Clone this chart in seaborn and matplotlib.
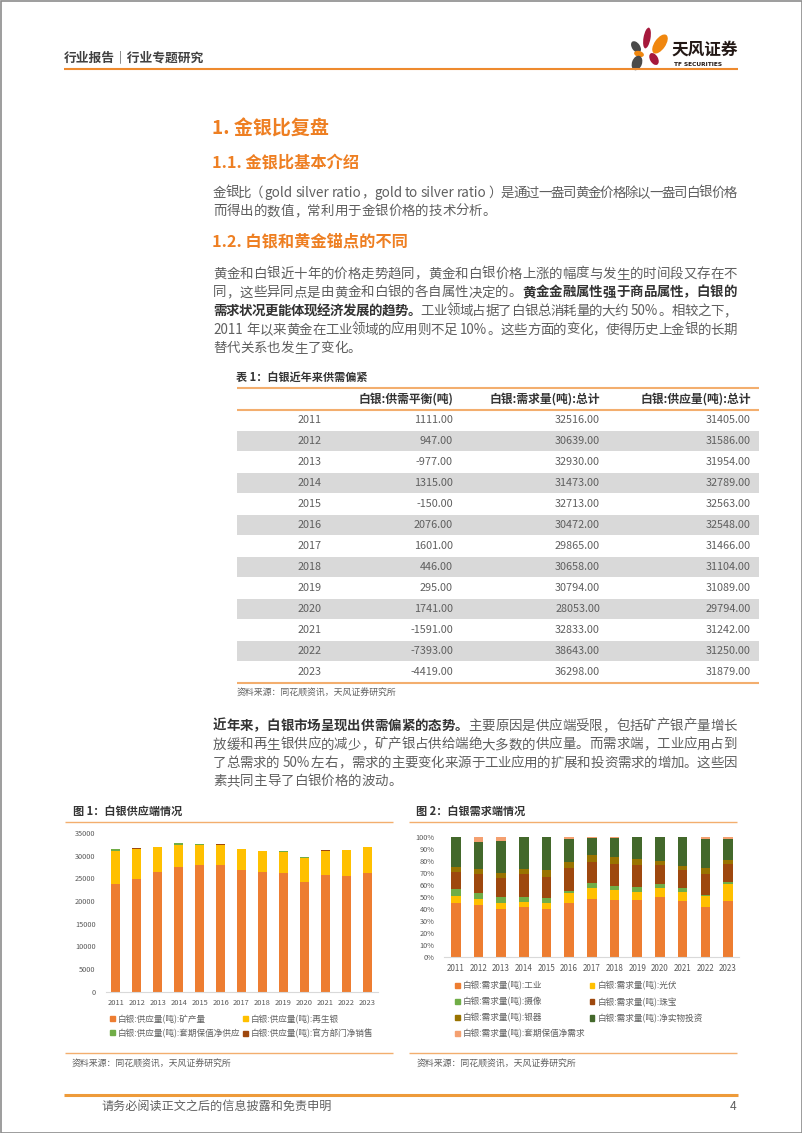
import re
import matplotlib.pyplot as plt
from matplotlib.patches import Rectangle, Ellipse, Patch
from matplotlib.ticker import FuncFormatter
import seaborn as sns
import pandas as pd

sns.set_style('white')
plt.rcParams['font.family'] = ['Noto Sans CJK SC', 'DejaVu Sans']

W, H = 802, 1133
ORANGE = '#EE7F22'
LINE = '#F3AE6E'
BODY = '#5F5F5F'
DARK = '#333333'

years = [str(y) for y in range(2011, 2024)]

# 表1 数据
table_cols = ['白银:供需平衡(吨)', '白银:需求量(吨):总计', '白银:供应量(吨):总计']
balance = [1111, 947, -977, 1315, -150, 2076, 1601, 446, 295, 1741, -1591, -7393, -4419]
demand_total = [32516, 30639, 32930, 31473, 32713, 30472, 29865, 30658, 30794, 28053, 32833, 38643, 36298]
supply_total = [31405, 31586, 31954, 32789, 32563, 32548, 31466, 31104, 31089, 29794, 31242, 31250, 31879]

# 图1 供应端 (吨)
supply_labels = ['白银:供应量(吨):矿产量', '白银:供应量(吨):再生银',
                 '白银:供应量(吨):套期保值净供应', '白银:供应量(吨):官方部门净销售']
supply_colors = ['#ED7D31', '#FFC000', '#70AD47', '#9E480E']
mine = [23700, 24800, 26300, 27500, 28000, 27950, 26900, 26480, 26130, 24280, 25750, 25600, 26260]
recycled = [7330, 6690, 5560, 4960, 4420, 4500, 4470, 4530, 4600, 5200, 5380, 5580, 5560]
hedge_supply = [375, 0, 0, 329, 70, 0, 0, 0, 280, 250, 0, 0, 0]
official = [0, 96, 94, 0, 73, 98, 96, 94, 79, 64, 112, 70, 59]

# 图2 需求端 (占比 %)
demand_labels = ['白银:需求量(吨):工业', '白银:需求量(吨):光伏', '白银:需求量(吨):摄像',
                 '白银:需求量(吨):珠宝', '白银:需求量(吨):银器', '白银:需求量(吨):净实物投资',
                 '白银:需求量(吨):套期保值净需求']
demand_colors = ['#ED7D31', '#FFC000', '#70AD47', '#9E480E', '#997300', '#43682B', '#F4A070']
industry = [45.3, 43.0, 40.0, 41.3, 40.2, 45.3, 48.6, 47.5, 47.5, 50.3, 46.6, 41.9, 46.6]
pv = [5.8, 5.3, 4.7, 4.2, 5.1, 7.8, 8.9, 8.1, 7.0, 7.2, 7.6, 8.9, 14.3]
photo = [5.6, 5.1, 5.0, 4.8, 3.6, 2.2, 4.0, 3.9, 3.6, 3.4, 3.1, 0.9, 1.9]
jewelry = [14.4, 15.5, 15.9, 18.6, 17.8, 18.6, 17.7, 18.3, 18.6, 15.5, 14.9, 17.2, 15.0]
silverware = [3.9, 4.2, 4.7, 4.7, 5.5, 5.0, 5.8, 6.1, 5.5, 3.6, 3.4, 5.5, 3.6]
investment = [25.0, 22.7, 26.9, 26.4, 27.8, 20.0, 14.4, 15.5, 17.8, 20.0, 24.4, 24.2, 17.5]
hedge_demand = [0, 4.2, 2.8, 0, 0, 1.1, 0.6, 0.6, 0, 0, 0, 1.4, 1.1]

fig = plt.figure(figsize=(W / 100, H / 100), dpi=100)
page = fig.add_axes([0, 0, 1, 1])
page.set_xlim(0, W)
page.set_ylim(H, 0)
page.axis('off')
renderer = fig.canvas.get_renderer()


def hline(x0, x1, y, color=LINE, lw=1.0):
    page.plot([x0, x1], [y, y], color=color, lw=lw, solid_capstyle='butt')


def rich_line(segs, x, yc, size=9.7, right=None):
    em = size * 100 / 72
    base = yc + 0.37 * em
    items = []
    for text, bold in segs:
        for tok in re.findall(r'[!-~]+| +|.', text):
            items.append((tok, bold))
    arts, widths = [], []
    for tok, bold in items:
        if tok.strip() == '':
            arts.append(None)
            widths.append(0.25 * em * len(tok))
            continue
        t = page.text(0, base, tok, fontsize=size, va='baseline', ha='left',
                      color=DARK if bold else BODY,
                      fontweight='bold' if bold else 'normal')
        arts.append(t)
        if re.fullmatch(r'[!-~]+', tok):
            widths.append(t.get_window_extent(renderer).width + 0.1 * em)
        else:
            widths.append(em)
    gap = 0
    if right is not None and len(items) > 1:
        gap = (right - x - sum(widths)) / (len(items) - 1)
    cx = x
    for a, w in zip(arts, widths):
        if a is not None:
            a.set_x(cx)
        cx += w + gap


# 页边框
page.add_patch(Rectangle((0.5, 0.5), W - 1, H - 1, fill=False, ec='#8C8C8C', lw=1.2))

# 页眉
page.text(64, 58, '行业报告｜行业专题研究', fontsize=9.2, color='#404040',
          fontweight='bold', va='center')
hline(64, 738, 68.5, color='#EE8A2E', lw=1.5)
for (cx, cy, w, h, ang, c) in [(647, 38, 7, 21, 10, '#A6193C'),
                               (660, 44, 11, 22, 35, '#F0870F'),
                               (636, 47, 8, 13, -35, '#4A4A4A'),
                               (639, 54, 10, 6, 15, '#F0870F'),
                               (637, 63, 10, 15, 20, '#4A4A4A'),
                               (654, 59, 8, 13, -30, '#A6193C')]:
    page.add_patch(Ellipse((cx, cy), w, h, angle=ang, color=c, lw=0))
page.text(671, 50, '天风证券', fontsize=12, fontweight='bold', color='#231815', va='center')
page.text(674, 64, 'TF SECURITIES', fontsize=4.2, fontweight='bold', color='#231815',
          va='center', family='DejaVu Sans')

# 标题与正文
LEFT, RIGHT = 213, 737
page.text(212.5, 128.5, '1. 金银比复盘', fontsize=13.7, color=ORANGE, va='center', fontweight='bold')
page.text(212.5, 163, '1.1. 金银比基本介绍', fontsize=11.7, color=ORANGE, va='center', fontweight='bold')
rich_line([('金银比（ gold silver ratio，gold to silver ratio ）是通过一盎司黄金价格除以一盎司白银价格', False)],
          LEFT, 191.7, right=RIGHT)
rich_line([('而得出的数值，常利用于金银价格的技术分析。', False)], LEFT, 210.2)
page.text(212.5, 241.7, '1.2. 白银和黄金锚点的不同', fontsize=11.7, color=ORANGE, va='center', fontweight='bold')
p2 = [
    [('黄金和白银近十年的价格走势趋同，黄金和白银价格上涨的幅度与发生的时间段又存在不', False)],
    [('同，这些异同点是由黄金和白银的各自属性决定的。', False), ('黄金金融属性强于商品属性，白银的', True)],
    [('需求状况更能体现经济发展的趋势。', True), ('工业领域占据了白银总消耗量的大约 50%。相较之下，', False)],
    [('2011 年以来黄金在工业领域的应用则不足 10%。这些方面的变化，使得历史上金银的长期', False)],
    [('替代关系也发生了变化。', False)],
]
for i, segs in enumerate(p2):
    rich_line(segs, LEFT, 272.7 + i * 18.65, right=RIGHT if i < len(p2) - 1 else None)

# 表1
TL, TR = 236.5, 758.5
page.text(TL, 377, '表 1：白银近年来供需偏紧', fontsize=8, fontweight='bold', color=DARK, va='center')
hline(TL, TR, 387.5, lw=1.5)
col_right = [453, 600, 751]
for xr, name in zip(col_right, table_cols):
    page.text(xr, 399, name, fontsize=8.5, color=DARK, ha='right', va='center', fontweight='bold')
hline(TL, TR, 410, lw=1.5)
for i, yr in enumerate(years):
    yc = 420.3 + i * 20.97
    if i % 2 == 1:
        page.add_patch(Rectangle((TL, yc - 10.2), TR - TL, 20.4, color='#D9D9D9', lw=0))
    page.text(310, yc, yr, fontsize=7.8, color=BODY, ha='center', va='center')
    for xr, v in zip(col_right, (balance[i], demand_total[i], supply_total[i])):
        page.text(xr, yc, f'{v:.2f}', fontsize=7.8, color=BODY, ha='right', va='center')
hline(TL, TR, 683, lw=1.5)
page.text(TL, 693.5, '资料来源：同花顺资讯，天风证券研究所', fontsize=6.4, color=BODY, va='center')

p3 = [
    [('近年来，白银市场呈现出供需偏紧的态势。', True), ('主要原因是供应端受限，包括矿产银产量增长', False)],
    [('放缓和再生银供应的减少，矿产银占供给端绝大多数的供应量。而需求端，工业应用占到', False)],
    [('了总需求的 50%左右，需求的主要变化来源于工业应用的扩展和投资需求的增加。这些因', False)],
    [('素共同主导了白银价格的波动。', False)],
]
for i, segs in enumerate(p3):
    rich_line(segs, LEFT, 725 + i * 18.4, right=RIGHT if i < len(p3) - 1 else None)

# 图标题
page.text(73, 811.5, '图 1：白银供应端情况', fontsize=8, fontweight='bold', color=DARK, va='center')
page.text(416.5, 811.5, '图 2：白银需求端情况', fontsize=8, fontweight='bold', color=DARK, va='center')
hline(65, 393, 821.5)
hline(409, 737, 821.5)
hline(65, 393, 1052.5)
hline(409, 737, 1052.5)
page.text(72, 1064, '资料来源：同花顺资讯，天风证券研究所', fontsize=6.4, color=BODY, va='center')
page.text(417, 1064, '资料来源：同花顺资讯，天风证券研究所', fontsize=6.4, color=BODY, va='center')


def style_axis(ax, xpad, ylab_size, xlab_size):
    for s in ('top', 'right', 'left'):
        ax.spines[s].set_visible(False)
    ax.spines['bottom'].set_color('#D9D9D9')
    ax.spines['bottom'].set_linewidth(0.8)
    ax.tick_params(axis='both', length=0, colors='#595959')
    ax.tick_params(axis='x', pad=xpad, labelsize=xlab_size)
    ax.tick_params(axis='y', pad=7, labelsize=ylab_size)
    ax.set_xlabel('')
    ax.set_ylabel('')
    ax.set_xlim(-0.5, len(years) - 0.5)
    ax.grid(False)


# 图1：供应端堆积柱
ax1 = fig.add_axes([105.5 / W, 1 - 991.7 / H, 272 / W, (991.7 - 833) / H])
supply = pd.DataFrame(dict(zip(supply_labels, [mine, recycled, hedge_supply, official])), index=years)
cum1 = supply.cumsum(axis=1)
for name, c in reversed(list(zip(supply_labels, supply_colors))):
    sns.barplot(x=years, y=cum1[name].values, color=c, saturation=1, width=0.43,
                errorbar=None, linewidth=0, ax=ax1)
ax1.set_ylim(0, 35000)
ax1.set_yticks(range(0, 35001, 5000))
style_axis(ax1, 5, 5.3, 5.4)
h1 = [Patch(color=c) for c in supply_colors]
order1 = [0, 2, 1, 3]
leg1 = ax1.legend([h1[i] for i in order1], [supply_labels[i] for i in order1], ncol=2,
                  loc='upper left', bbox_to_anchor=(110 / W, 1 - 1014.5 / H),
                  bbox_transform=fig.transFigure, frameon=False, fontsize=6.2,
                  handlelength=0.55, handleheight=0.55, handletextpad=0.35,
                  columnspacing=0.3, labelspacing=0.58, borderpad=0, borderaxespad=0)
for t in leg1.get_texts():
    t.set_color(BODY)

# 图2：需求端百分比堆积柱
ax2 = fig.add_axes([444.4 / W, 1 - 956.7 / H, 294.9 / W, (956.7 - 837.3) / H])
demand = pd.DataFrame(dict(zip(demand_labels, [industry, pv, photo, jewelry, silverware,
                                               investment, hedge_demand])), index=years)
share = demand.div(demand.sum(axis=1), axis=0) * 100
cum2 = share.cumsum(axis=1)
for name, c in reversed(list(zip(demand_labels, demand_colors))):
    sns.barplot(x=years, y=cum2[name].values, color=c, saturation=1, width=0.42,
                errorbar=None, linewidth=0, ax=ax2)
ax2.set_ylim(0, 100)
ax2.set_yticks(range(0, 101, 10))
ax2.yaxis.set_major_formatter(FuncFormatter(lambda v, p: f'{v:.0f}%'))
style_axis(ax2, 5.5, 5.3, 5.8)
h2 = [Patch(color=c) for c in demand_colors]
order2 = [0, 2, 4, 6, 1, 3, 5]
leg2 = ax2.legend([h2[i] for i in order2], [demand_labels[i] for i in order2], ncol=2,
                  loc='upper left', bbox_to_anchor=(455 / W, 1 - 981.5 / H),
                  bbox_transform=fig.transFigure, frameon=False, fontsize=6.2,
                  handlelength=0.55, handleheight=0.55, handletextpad=0.35,
                  columnspacing=0.5, labelspacing=0.8, borderpad=0, borderaxespad=0)
for t in leg2.get_texts():
    t.set_color(BODY)

# 页脚
hline(64, 738, 1095, color='#EE9B3A', lw=2.2)
page.text(101, 1106, '请务必阅读正文之后的信息披露和免责申明', fontsize=8.7, color=BODY, va='center')
page.text(733, 1106, '4', fontsize=8.7, color=BODY, va='center', ha='center')

fig.savefig('out.png', dpi=100, facecolor='white')
